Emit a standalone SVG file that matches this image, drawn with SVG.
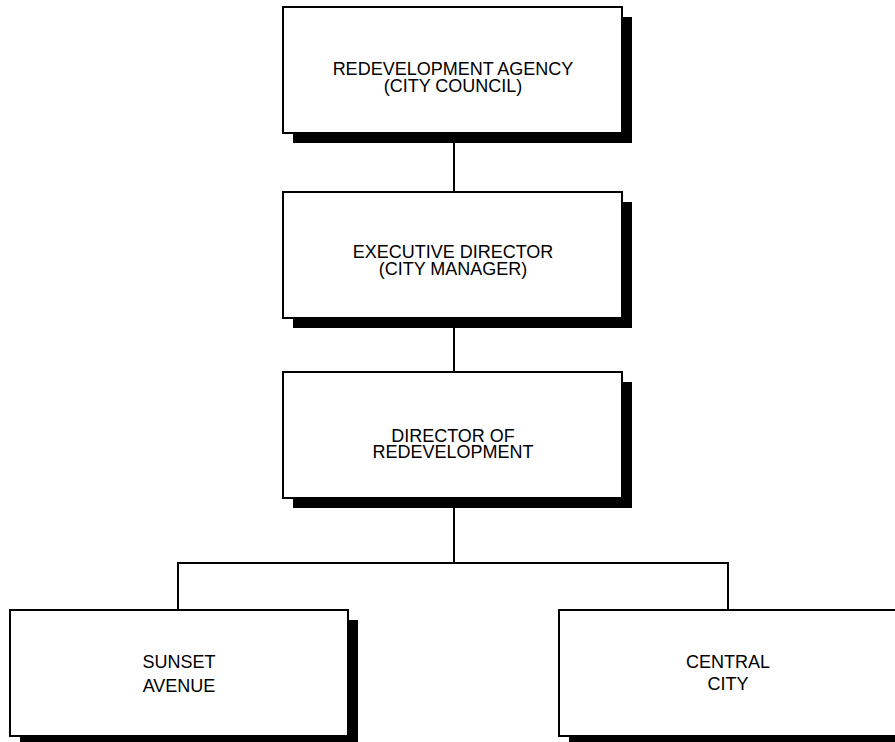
<svg xmlns="http://www.w3.org/2000/svg" width="895" height="742" viewBox="0 0 895 742">
  <style>
    .box { fill: #fff; stroke: #000; stroke-width: 2; }
    .shadow { fill: #000; }
    .lbl { font-family: "Liberation Sans", Arial, sans-serif; font-size: 18px; fill: #000; text-anchor: middle; }
    .wire { fill: none; stroke: #000; stroke-width: 2; }
  </style>
  <rect width="895" height="742" fill="#fff"/>

  <g id="connectors">
    <line class="wire" x1="454" y1="143" x2="454" y2="192"/>
    <line class="wire" x1="454" y1="328" x2="454" y2="372"/>
    <line class="wire" x1="454" y1="508" x2="454" y2="563"/>
    <polyline class="wire" points="178,610 178,563 728,563 728,610"/>
  </g>

  <g id="agency">
    <rect class="shadow" x="293" y="17" width="339" height="126"/>
    <rect class="box" x="283" y="7" width="339" height="126"/>
    <text class="lbl" x="453" y="75">REDEVELOPMENT AGENCY</text>
    <text class="lbl" x="453" y="92">(CITY COUNCIL)</text>
  </g>

  <g id="executive-director">
    <rect class="shadow" x="293" y="202" width="339" height="126"/>
    <rect class="box" x="283" y="192" width="339" height="126"/>
    <text class="lbl" x="453" y="258">EXECUTIVE DIRECTOR</text>
    <text class="lbl" x="453" y="275">(CITY MANAGER)</text>
  </g>

  <g id="director-redevelopment">
    <rect class="shadow" x="293" y="382" width="339" height="126"/>
    <rect class="box" x="283" y="372" width="339" height="126"/>
    <text class="lbl" x="453" y="442">DIRECTOR OF</text>
    <text class="lbl" x="453" y="458">REDEVELOPMENT</text>
  </g>

  <g id="sunset-avenue">
    <rect class="shadow" x="20" y="620" width="338" height="126"/>
    <rect class="box" x="10" y="610" width="338" height="126"/>
    <text class="lbl" x="179" y="668">SUNSET</text>
    <text class="lbl" x="179" y="692">AVENUE</text>
  </g>

  <g id="central-city">
    <rect class="shadow" x="569" y="620" width="345" height="126"/>
    <rect class="box" x="559" y="610" width="345" height="126"/>
    <text class="lbl" x="728" y="668">CENTRAL</text>
    <text class="lbl" x="728" y="690">CITY</text>
  </g>
</svg>
